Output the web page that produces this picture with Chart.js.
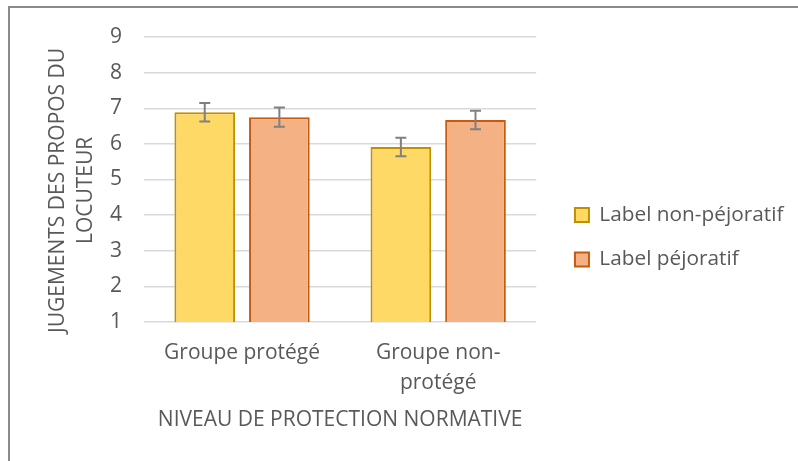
<!DOCTYPE html>
<html>
<head>
<meta charset="utf-8">
<script src="https://cdn.jsdelivr.net/npm/chart.js@4/dist/chart.umd.min.js"></script>
<style>
html,body{margin:0;padding:0;background:#fff;}
#wrap{width:798px;height:461px;}
</style>
</head>
<body>
<div id="wrap"><canvas id="c" width="798" height="461"></canvas></div>
<script>
const categories = ["Groupe protégé", ["Groupe non-", "protégé"]];
const seriesNames = ["Label non-péjoratif", "Label péjoratif"];
const nonPejoratif = [6.89, 5.91];
const pejoratif = [6.75, 6.67];
const nonPejoratifErr = [0.26, 0.26];
const pejoratifErr = [0.27, 0.26];
const yTicks = [1, 2, 3, 4, 5, 6, 7, 8, 9];
const yTitle = ["JUGEMENTS DES PROPOS DU    ", "LOCUTEUR    "];
const xTitle = "NIVEAU DE PROTECTION NORMATIVE";

const errors = [nonPejoratifErr, pejoratifErr];
const FONT = "'Open Sans', Lato, sans-serif";
const TXT = "#595959";

const borderPlugin = {
  id: 'bg',
  beforeDraw(chart) {
    const ctx = chart.ctx;
    ctx.save();
    ctx.fillStyle = '#fff';
    ctx.fillRect(0, 0, chart.width, chart.height);
    ctx.strokeStyle = '#8a8a8a';
    ctx.lineWidth = 2;
    ctx.beginPath();
    ctx.moveTo(9, chart.height + 5);
    ctx.lineTo(9, 7);
    ctx.lineTo(chart.width + 5, 7);
    ctx.stroke();
    ctx.restore();
  }
};

const errPlugin = {
  id: 'errbars',
  afterDatasetsDraw(chart) {
    const ctx = chart.ctx;
    const ys = chart.scales.y;
    ctx.save();
    ctx.strokeStyle = '#808080';
    ctx.lineWidth = 2;
    chart.data.datasets.forEach((ds, di) => {
      const meta = chart.getDatasetMeta(di);
      meta.data.forEach((el, i) => {
        const v = ds.data[i], e = errors[di][i];
        const x = el.x;
        const yT = ys.getPixelForValue(v + e);
        const yB = ys.getPixelForValue(v - e);
        ctx.beginPath();
        ctx.moveTo(x, yT); ctx.lineTo(x, yB);
        ctx.moveTo(x - 5.5, yT); ctx.lineTo(x + 5.5, yT);
        ctx.moveTo(x - 5.5, yB); ctx.lineTo(x + 5.5, yB);
        ctx.stroke();
      });
    });
    ctx.restore();
  }
};

new Chart(document.getElementById('c'), {
  type: 'bar',
  data: {
    labels: categories,
    datasets: [
      { label: seriesNames[0], data: nonPejoratif, backgroundColor: '#FFD966', borderColor: '#BF9000', borderWidth: 2, borderSkipped: false },
      { label: seriesNames[1], data: pejoratif, backgroundColor: '#F4B183', borderColor: '#C55A11', borderWidth: 2, borderSkipped: false }
    ]
  },
  options: {
    responsive: false,
    animation: false,
    devicePixelRatio: 1,
    categoryPercentage: 0.761,
    barPercentage: 0.813,
    layout: { padding: { left: 44.5, top: 33.4, right: 4.6, bottom: 20 } },
    plugins: {
      tooltip: { enabled: false },
      legend: {
        position: 'right',
        maxWidth: 400,
        labels: {
          font: { family: FONT, size: 20.8 },
          color: TXT,
          boxWidth: 14,
          boxHeight: 14,
          padding: 23.7
        }
      }
    },
    scales: {
      x: {
        afterFit(s) { s.height = 119; },
        grid: { display: false, drawTicks: false },
        border: { display: false },
        ticks: { font: { family: FONT, size: 21, lineHeight: '30px' }, color: TXT, padding: 16, maxRotation: 0 },
        title: { display: true, text: xTitle, font: { family: FONT, size: 21, lineHeight: 1.2 }, color: TXT, padding: { top: 0, bottom: 8 } }
      },
      xTop: {
        type: 'linear',
        position: 'top',
        display: true,
        grid: { display: false, drawOnChartArea: false, drawTicks: false },
        border: { display: false },
        ticks: { display: false },
        afterFit(s) { s.height = 3.6; }
      },
      y: {
        min: 1, max: 9,
        afterBuildTicks(s) { s.ticks = yTicks.map(v => ({ value: v })); },
        afterFit(s) { s.width = 99.5; },
        grid: { color: '#d9d9d9', lineWidth: 1.5, drawTicks: false },
        border: { display: false },
        ticks: { font: { family: FONT, size: 21 }, color: TXT, padding: 22 },
        title: { display: true, text: yTitle, font: { family: FONT, size: 21, lineHeight: '28px' }, color: TXT, padding: 0 }
      },
      yR: {
        position: 'right',
        display: true,
        grid: { display: false, drawOnChartArea: false, drawTicks: false },
        border: { display: false },
        ticks: { display: false },
        afterFit(s) { s.width = 15; }
      }
    }
  },
  plugins: [borderPlugin, errPlugin]
});
</script>
</body>
</html>
